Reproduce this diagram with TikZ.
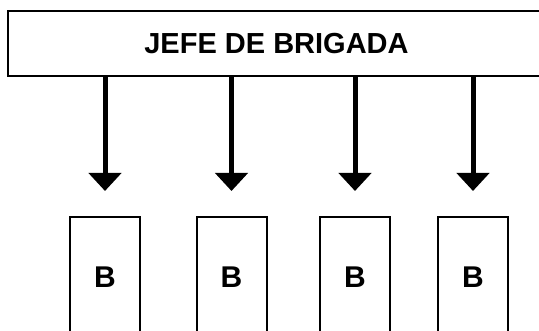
\documentclass[tikz,border=0pt]{standalone}
\usepackage{fontspec}
\setmainfont{Liberation Sans}
\usetikzlibrary{arrows.meta}
\tikzset{jefebox/.style = {draw, line width=2pt, minimum width=537pt, minimum height=65pt, inner sep=0pt, font=\fontsize{29}{31}\selectfont\bfseries}}
\tikzset{bbox/.style = {draw, line width=2pt, minimum width=70pt, minimum height=120pt, inner sep=0pt, font=\fontsize{30}{32}\selectfont\bfseries}}
\tikzset{down/.style = {-{Triangle[width=32pt,length=18pt]}, line width=5pt, shorten >=25pt}}

\begin{document}
\begin{tikzpicture}[x=1pt, y=1pt]
\useasboundingbox (0,0) rectangle (539,330);
\clip (0,0) rectangle (539,330);
\node [jefebox] (jefe) at (276.5,286.5) {JEFE DE BRIGADA};
\node [bbox] (b1) at (105,53) {B};
\node [bbox] (b2) at (231.5,53) {B};
\node [bbox] (b3) at (355,53) {B};
\node [bbox] (b4) at (473,53) {B};
\draw [down] (jefe.south -| b1.north) -- (b1.north);
\draw [down] (jefe.south -| b2.north) -- (b2.north);
\draw [down] (jefe.south -| b3.north) -- (b3.north);
\draw [down] (jefe.south -| b4.north) -- (b4.north);
\end{tikzpicture}
\end{document}
